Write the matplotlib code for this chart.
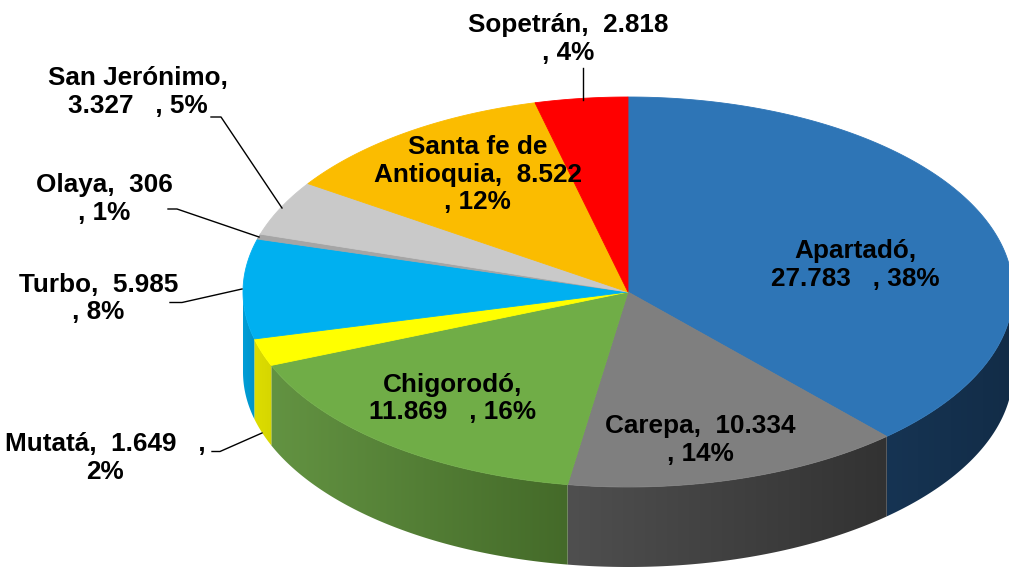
import numpy as np
import matplotlib
matplotlib.use('Agg')
import matplotlib.pyplot as plt
from matplotlib.patches import Polygon
from matplotlib.colors import to_rgb

# ---------------- data ----------------
municipios = ['Apartadó', 'Carepa', 'Chigorodó', 'Mutatá', 'Turbo',
              'Olaya', 'San Jerónimo', 'Santa fe de Antioquia', 'Sopetrán']
valores = [27783, 10334, 11869, 1649, 5985, 306, 3327, 8522, 2818]
porcentajes = [38, 14, 16, 2, 8, 1, 5, 12, 4]

# ---------------- style / layout ----------------
top_colors = ['#2e75b6', '#7f7f7f', '#70ad47', '#ffff00', '#00b0f0',
              '#a5a5a5', '#c9c9c9', '#fbbc00', '#ff0000']
wall_colors = [('#163453', '#122c47'), ('#4f4f4f', '#323232'),
               ('#639342', '#446a29'), ('#dede00', '#d6d600'),
               ('#009fd8', '#0092c8'), ('#8c8c8c', '#8c8c8c'),
               ('#aaaaaa', '#aaaaaa'), ('#d9a000', '#d9a000'),
               ('#d00000', '#d00000')]

templates = {
    'Apartadó': '{n},\n{v}   , {p}%',
    'Carepa': '{n},  {v}\n, {p}%',
    'Chigorodó': '{n},\n{v}   , {p}%',
    'Mutatá': '{n},  {v}   ,\n{p}%',
    'Turbo': '{n},  {v}\n, {p}%',
    'Olaya': '{n},  {v}\n, {p}%',
    'San Jerónimo': '{n},\n{v}   , {p}%',
    'Santa fe de Antioquia': 'Santa fe de\nAntioquia,  {v}\n, {p}%',
    'Sopetrán': '{n},  {v}\n, {p}%',
}
label_pos = {
    'Apartadó': (855.5, 265), 'Carepa': (700, 440), 'Chigorodó': (453, 398.5),
    'Mutatá': (105, 458), 'Turbo': (98.5, 298.5), 'Olaya': (104.5, 199),
    'San Jerónimo': (138, 92), 'Santa fe de Antioquia': (477.5, 174.5),
    'Sopetrán': (568, 38.8),
}
leaders = {
    'Sopetrán': [(583, 68), (583, 100)],
    'San Jerónimo': [(211, 117), (221, 117), (282, 208)],
    'Olaya': [(168, 209), (177, 209), (259, 237)],
    'Turbo': [(170, 302.5), (182, 302.5), (242, 289)],
    'Mutatá': [(212, 451.5), (220, 451.5), (262, 433)],
}

cx, cy, rx, ry, depth = 628, 292, 385, 195, 80

fig = plt.figure(figsize=(10.09, 5.69), dpi=100)
ax = fig.add_axes([0, 0, 1, 1])
ax.axis('off')


def ell(theta_deg, dy=0.0):
    t = np.radians(theta_deg)
    return cx + rx * np.cos(t), cy - ry * np.sin(t) + dy


def mix(c1, c2, f):
    a, b = np.array(to_rgb(c1)), np.array(to_rgb(c2))
    return a + (b - a) * f


total = float(sum(valores))
cum = np.concatenate([[0], np.cumsum(valores)]) / total
theta_s = 90 - 360 * cum[:-1]
theta_e = 90 - 360 * cum[1:]

# walls (front half only: theta in [-180, 0])
for i in range(len(valores)):
    lo = max(theta_e[i], -180)
    hi = min(theta_s[i], 0)
    if hi <= lo:
        continue
    th = np.linspace(hi, lo, 200)
    xt, yt = ell(th)
    xb, yb = ell(th[::-1], depth)
    verts = np.column_stack([np.concatenate([xt, xb]), np.concatenate([yt, yb])])
    poly = Polygon(verts, closed=True, facecolor='none', edgecolor='none')
    ax.add_patch(poly)
    xmin, xmax = verts[:, 0].min(), verts[:, 0].max()
    ymin, ymax = verts[:, 1].min(), verts[:, 1].max()
    n = 256
    grad = np.array([mix(wall_colors[i][0], wall_colors[i][1], f)
                     for f in np.linspace(0, 1, n)])[None, :, :]
    im = ax.imshow(grad, extent=(xmin - 1, xmax + 1, ymax + 1, ymin - 1),
                   aspect='auto', zorder=1, interpolation='bilinear')
    im.set_clip_path(poly)

# top faces
for i in range(len(valores)):
    th = np.linspace(theta_s[i], theta_e[i], 300)
    xs, ys = ell(th)
    verts = np.column_stack([np.concatenate([[cx], xs]), np.concatenate([[cy], ys])])
    ax.add_patch(Polygon(verts, closed=True, facecolor=top_colors[i],
                         edgecolor=top_colors[i], linewidth=0.6, zorder=2))

# labels
for name, v, p in zip(municipios, valores, porcentajes):
    vs = f'{v:,}'.replace(',', '.')
    txt = templates[name].format(n=name, v=vs, p=p)
    x, y = label_pos[name]
    ax.text(x, y, txt, ha='center', va='center', multialignment='center',
            fontsize=18.8, fontweight='bold', family='Liberation Sans',
            linespacing=1.2, color='black', zorder=6)

for name, pts in leaders.items():
    pts = np.array(pts)
    ax.plot(pts[:, 0], pts[:, 1], color='black', linewidth=1.0, zorder=5)

ax.set_xlim(0, 1009)
ax.set_ylim(569, 0)
fig.savefig('out.png', dpi=100)
